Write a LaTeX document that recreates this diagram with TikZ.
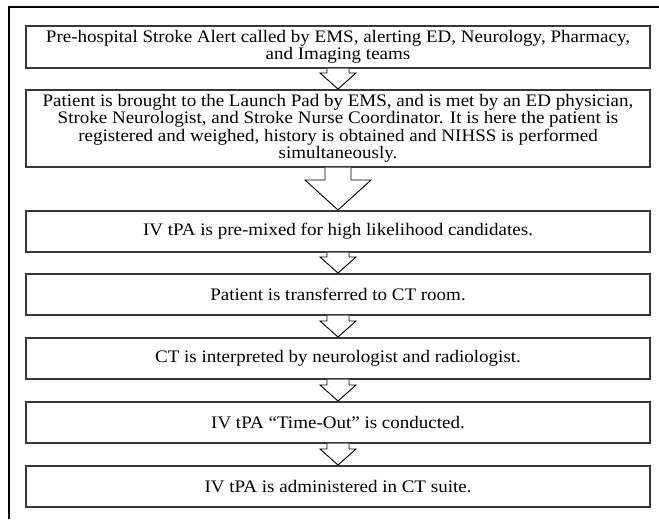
\documentclass[tikz,border=0pt]{standalone}
\usepackage{fontspec}
\setmainfont{Liberation Serif}[FakeStretch=1.08]
\usetikzlibrary{calc}
\newcommand\boxfont{\fontsize{13.2pt}{13pt}\selectfont}
\tikzset{
  box/.style={draw=black!78, line width=1.3pt, fill=white, minimum width=468pt,
    inner sep=0pt, align=center, font=\boxfont, anchor=north},
  arr/.style={draw=black, line width=0.7pt, fill=white, line join=miter},
  frame/.style={draw=black, line width=1.6pt}
}
\begin{document}
\begin{tikzpicture}[x=0.75pt, y=-0.75pt]
\useasboundingbox (0,0) rectangle (659,519);
\coordinate (fb) at (9,519);
\coordinate (fc) at (9,7);
\coordinate (fr) at (659,7);
\draw[frame] (fb) -- (fc) -- (fr);

\node[box, minimum height=31.5pt] (b1) at (338,25)
  {Pre-hospital Stroke Alert called by EMS, alerting ED, Neurology, Pharmacy,\\ and Imaging teams};
\node[box, minimum height=57.75pt] (b2) at (338,89)
  {Patient is brought to the Launch Pad by EMS, and is met by an ED physician,\\
   Stroke Neurologist, and Stroke Nurse Coordinator. It is here the patient is\\
   registered and weighed, history is obtained and NIHSS is performed\\
   simultaneously.};
\node[box, minimum height=30.75pt] (b3) at (338,210) {IV tPA is pre-mixed for high likelihood candidates.};
\node[box, minimum height=30.75pt] (b4) at (338,273) {Patient is transferred to CT room.};
\node[box, minimum height=30.75pt] (b5) at (338,337) {CT is interpreted by neurologist and radiologist.};
\node[box, minimum height=30.75pt] (b6) at (338,401) {IV tPA “Time-Out” is conducted.};
\node[box, minimum height=30.75pt] (b7) at (338,465) {IV tPA is administered in CT suite.};

\newcommand\smallarr[2]{%
  \draw[arr] ($(#1.south)+(-11,0)$) -- ($(#2.north)+(-11,-16)$) -- ($(#2.north)+(-18,-16)$)
    -- (#2.north) -- ($(#2.north)+(18,-16)$) -- ($(#2.north)+(11,-16)$) -- ($(#1.south)+(11,0)$);}
\smallarr{b1}{b2}
\draw[arr] ($(b2.south)+(-13,0)$) -- ($(b3.north)+(-13,-30)$) -- ($(b3.north)+(-33,-30)$)
    -- (b3.north) -- ($(b3.north)+(33,-30)$) -- ($(b3.north)+(13,-30)$) -- ($(b2.south)+(13,0)$);
\smallarr{b3}{b4}
\smallarr{b4}{b5}
\smallarr{b5}{b6}
\smallarr{b6}{b7}
\end{tikzpicture}
\end{document}
